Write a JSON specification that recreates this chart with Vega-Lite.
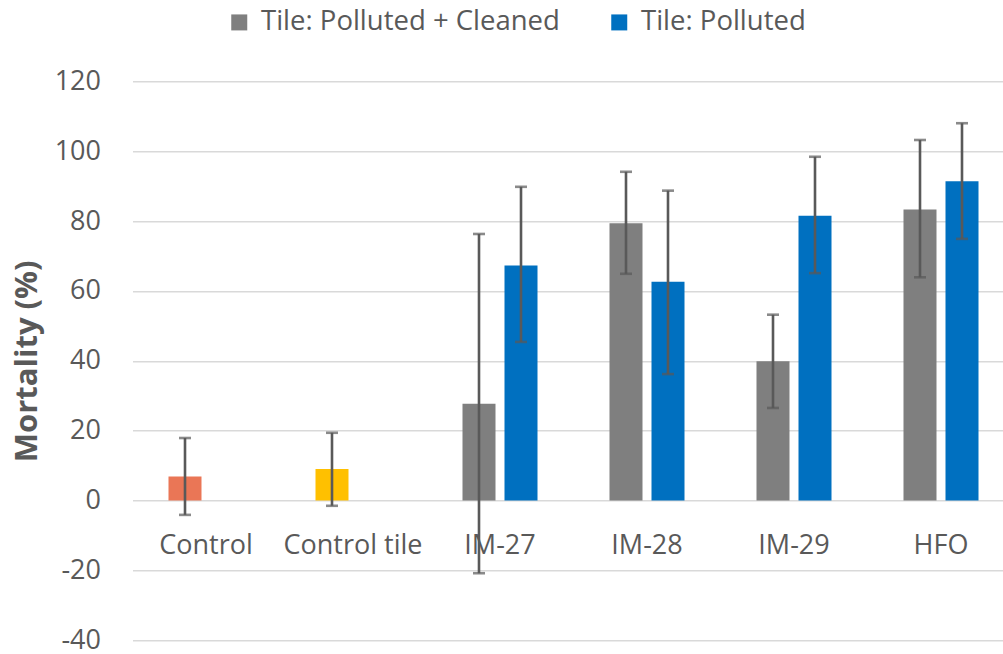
{
  "$schema": "https://vega.github.io/schema/vega-lite/v6.json",
  "autosize": "none",
  "padding": {"left": 132.5, "top": 81.3, "right": 0, "bottom": 13.7},
  "width": 870,
  "height": 559,
  "background": "white",
  "config": {
    "font": "Open Sans",
    "view": {"stroke": null},
    "axis": {"labelColor": "#595959", "titleColor": "#595959", "labelFont": "Open Sans", "titleFont": "Open Sans"}
  },
  "data": {
    "values": [
      {"treatment": "Control", "series": "Tile: Polluted + Cleaned", "group": "Control", "mortality": 6.9, "low": -4.1, "high": 17.9},
      {"treatment": "Control tile", "series": "Tile: Polluted + Cleaned", "group": "Control tile", "mortality": 9.0, "low": -1.5, "high": 19.4},
      {"treatment": "IM-27", "series": "Tile: Polluted + Cleaned", "group": "Tile: Polluted + Cleaned", "mortality": 27.7, "low": -20.8, "high": 76.3},
      {"treatment": "IM-27", "series": "Tile: Polluted", "group": "Tile: Polluted", "mortality": 67.3, "low": 45.4, "high": 89.8},
      {"treatment": "IM-28", "series": "Tile: Polluted + Cleaned", "group": "Tile: Polluted + Cleaned", "mortality": 79.4, "low": 64.9, "high": 94.1},
      {"treatment": "IM-28", "series": "Tile: Polluted", "group": "Tile: Polluted", "mortality": 62.6, "low": 36.2, "high": 88.7},
      {"treatment": "IM-29", "series": "Tile: Polluted + Cleaned", "group": "Tile: Polluted + Cleaned", "mortality": 39.9, "low": 26.5, "high": 53.2},
      {"treatment": "IM-29", "series": "Tile: Polluted", "group": "Tile: Polluted", "mortality": 81.5, "low": 65.1, "high": 98.4},
      {"treatment": "HFO", "series": "Tile: Polluted + Cleaned", "group": "Tile: Polluted + Cleaned", "mortality": 83.3, "low": 63.9, "high": 103.2},
      {"treatment": "HFO", "series": "Tile: Polluted", "group": "Tile: Polluted", "mortality": 91.4, "low": 74.9, "high": 108.0}
    ]
  },
  "encoding": {
    "x": {
      "field": "treatment",
      "type": "nominal",
      "sort": null,
      "scale": {"range": [0, 882], "paddingInner": 0, "paddingOuter": 0},
      "axis": {
        "title": null,
        "orient": "bottom",
        "offset": -140,
        "domain": false,
        "ticks": false,
        "tickSize": 0,
        "grid": false,
        "labelAngle": 0,
        "labelFontSize": 27,
        "labelBaseline": "alphabetic",
        "labelPadding": 53
      }
    },
    "xOffset": {
      "field": "series",
      "type": "nominal",
      "scale": {"domain": ["Tile: Polluted + Cleaned", "Tile: Polluted"], "paddingInner": 0.2143, "paddingOuter": 0.857}
    }
  },
  "layer": [
    {
      "mark": {"type": "bar"},
      "encoding": {
        "y": {
          "field": "mortality",
          "type": "quantitative",
          "scale": {"domain": [-40, 120], "nice": false, "zero": false},
          "axis": {
            "title": "Mortality (%)",
            "values": [-40, -20, 0, 20, 40, 60, 80, 100, 120],
            "labelExpr": "toString(datum.value)",
            "domain": false,
            "ticks": false,
            "tickSize": 0,
            "grid": true,
            "gridColor": "#D9D9D9",
            "gridWidth": 1.5,
            "labelFontSize": 27,
            "labelPadding": 32,
            "titleFontSize": 31,
            "titleFontWeight": "bold",
            "titleAngle": 270,
            "titleAlign": "center",
            "titleBaseline": "alphabetic",
            "titleX": -96.5,
            "titleY": 279.5
          }
        },
        "color": {
          "field": "group",
          "type": "nominal",
          "scale": {
            "domain": ["Tile: Polluted + Cleaned", "Tile: Polluted", "Control", "Control tile"],
            "range": ["#7F7F7F", "#0070C0", "#EA7656", "#FFC000"]
          },
          "legend": {
            "values": ["Tile: Polluted + Cleaned", "Tile: Polluted"],
            "title": null,
            "orient": "none",
            "direction": "horizontal",
            "legendX": 93,
            "legendY": -73,
            "padding": 0,
            "symbolType": "square",
            "symbolSize": 256,
            "symbolStrokeWidth": 0,
            "labelFontSize": 27.5,
            "labelColor": "#595959",
            "labelFont": "Open Sans",
            "labelOffset": 8,
            "labelLimit": 600,
            "columnPadding": 45
          }
        }
      }
    },
    {
      "mark": {"type": "rule", "color": "#595959", "strokeWidth": 2.6},
      "encoding": {
        "y": {"field": "low", "type": "quantitative"},
        "y2": {"field": "high"}
      }
    },
    {
      "mark": {"type": "tick", "color": "#595959", "thickness": 2.6, "size": 12, "orient": "horizontal"},
      "encoding": {
        "y": {"field": "low", "type": "quantitative"}
      }
    },
    {
      "mark": {"type": "tick", "color": "#595959", "thickness": 2.6, "size": 12, "orient": "horizontal"},
      "encoding": {
        "y": {"field": "high", "type": "quantitative"}
      }
    }
  ]
}
